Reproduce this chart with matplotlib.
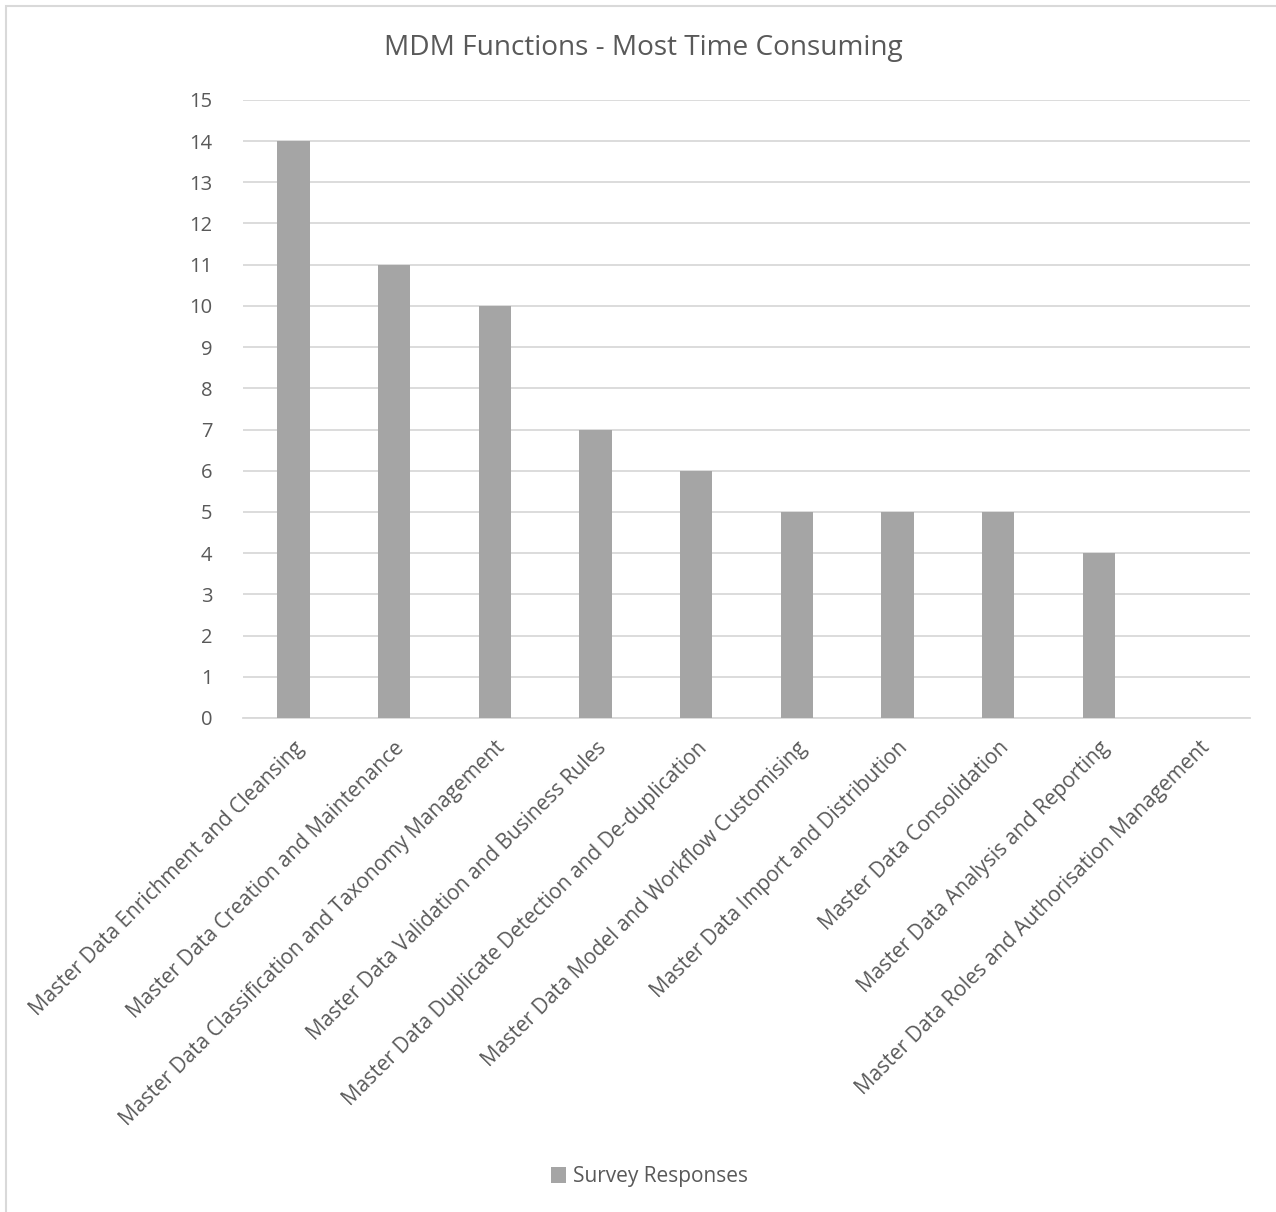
import matplotlib.pyplot as plt
from matplotlib.patches import Rectangle

categories = [
    "Master Data Enrichment and Cleansing",
    "Master Data Creation and Maintenance",
    "Master Data Classification and Taxonomy Management",
    "Master Data Validation and Business Rules",
    "Master Data Duplicate Detection and De-duplication",
    "Master Data Model and Workflow Customising",
    "Master Data Import and Distribution",
    "Master Data Consolidation",
    "Master Data Analysis and Reporting",
    "Master Data Roles and Authorisation Management",
]
responses = [14, 11, 10, 7, 6, 5, 5, 5, 4, 0]
y_ticks = list(range(0, 16))

text_col = "#595959"
grid_col = "#d9d9d9"
bar_col = "#a5a5a5"

plt.rcParams["font.family"] = ["Open Sans", "DejaVu Sans"]

fig = plt.figure(figsize=(12.76, 12.12), dpi=100)
ax = fig.add_axes([0.1905, 0.4076, 0.789, 0.51])

x = range(len(categories))
ax.bar(x, responses, width=0.32, color=bar_col, label="Survey Responses", zorder=3)

ax.set_xlim(-0.5, len(categories) - 0.5)
ax.set_ylim(0, 15)
ax.set_yticks(y_ticks)
ax.set_yticklabels([str(v) for v in y_ticks], fontsize=14.5, color=text_col)
ax.yaxis.grid(True, color=grid_col, linewidth=1.3, zorder=0)
ax.tick_params(axis="y", length=0, pad=22)
ax.tick_params(axis="x", length=0, pad=14)

ax.set_xticks(list(x))
ax.set_xticklabels(categories, rotation=45, ha="right", va="top",
                   rotation_mode="anchor", fontsize=15, color=text_col)

for side in ["top", "right", "left"]:
    ax.spines[side].set_visible(False)
ax.spines["bottom"].set_color(grid_col)
ax.spines["bottom"].set_linewidth(1.3)

fig.text(0.5045, 0.96, "MDM Functions - Most Time Consuming", ha="center", va="center",
         fontsize=20.2, color=text_col)

fig.legend(loc="center", bbox_to_anchor=(0.509, 0.029), frameon=False, fontsize=15,
           handlelength=0.75, handleheight=0.75, handletextpad=0.35, labelcolor=text_col)

# chart frame
fig.patches.append(Rectangle((6 / 1276, -0.05), 1.2, 1 - 6 / 1212 + 0.05,
                             transform=fig.transFigure, fill=False,
                             edgecolor="#d9d9d9", linewidth=1.5))

fig.savefig("out.png", dpi=100, facecolor="white")
